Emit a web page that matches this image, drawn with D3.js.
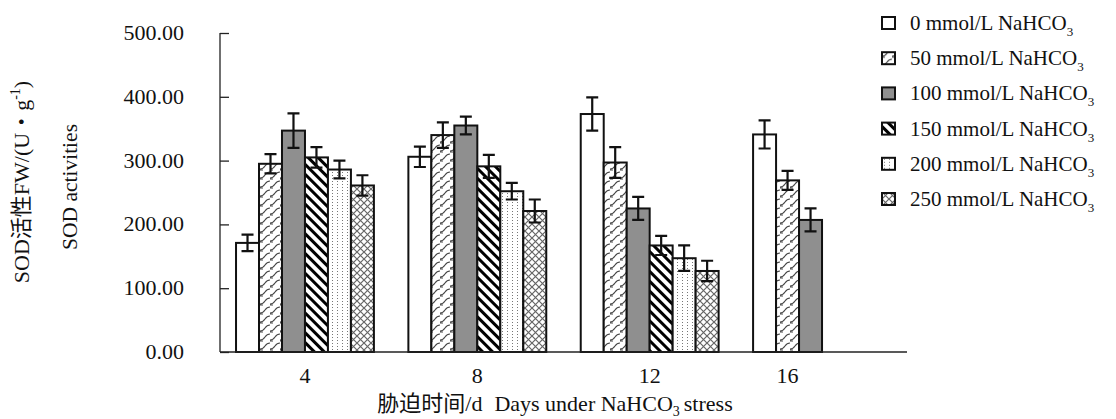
<html>
<head>
<script src="https://d3js.org/d3.v7.min.js"></script>
<style>
  body { margin: 0; background: #fff; }
  text { font-family: "Liberation Serif", "Times New Roman", "Noto Sans CJK SC", serif; fill: #111; }
</style>
</head>
<body>
<svg width="1116" height="419"></svg>
<script>
// data
var days = ["4", "8", "12", "16"];
var series = ["0", "50", "100", "150", "200", "250"];
var sod = [
  [171, 306, 373, 341],
  [295, 340, 297, 269],
  [347, 355, 225, 207],
  [305, 291, 167, null],
  [286, 252, 147, null],
  [261, 221, 127, null]
];
var err = [
  [13, 16, 26, 22],
  [15, 20, 24, 15],
  [27, 14, 18, 18],
  [16, 18, 15, null],
  [14, 13, 20, null],
  [16, 18, 16, null]
];
var yTicks = [0, 100, 200, 300, 400, 500];

var svg = d3.select("svg");
var defs = svg.append("defs");

// fill patterns, one per series
var p;
p = defs.append("pattern").attr("id", "p1").attr("patternUnits", "userSpaceOnUse").attr("width", 10).attr("height", 9);
p.append("rect").attr("width", 10).attr("height", 9).attr("fill", "#fff");
p.append("path").attr("d", "M0,7 Q3,7 5,4 T10,1 M0,8 L3,8").attr("stroke", "#444").attr("stroke-width", 1.1).attr("fill", "none");

p = defs.append("pattern").attr("id", "p3").attr("patternUnits", "userSpaceOnUse").attr("width", 7).attr("height", 7)
  .attr("patternTransform", "rotate(-45)");
p.append("rect").attr("width", 7).attr("height", 7).attr("fill", "#fff");
p.append("rect").attr("width", 3).attr("height", 7).attr("fill", "#000");

p = defs.append("pattern").attr("id", "p4").attr("patternUnits", "userSpaceOnUse").attr("width", 5).attr("height", 3);
p.append("rect").attr("width", 5).attr("height", 3).attr("fill", "#fff");
p.append("rect").attr("x", 2).attr("y", 1).attr("width", 1).attr("height", 1).attr("fill", "#777");

p = defs.append("pattern").attr("id", "p5").attr("patternUnits", "userSpaceOnUse").attr("width", 7).attr("height", 7);
p.append("rect").attr("width", 7).attr("height", 7).attr("fill", "#fff");
p.append("path").attr("d", "M0,0 L7,7 M7,0 L0,7").attr("stroke", "#666").attr("stroke-width", 1.2);

var fills = ["#fff", "url(#p1)", "#8f8f8f", "url(#p3)", "url(#p4)", "url(#p5)"];

var x = d3.scaleBand().domain(days).range([220, 907]).paddingInner(0.2).paddingOuter(0.093);
var xs = d3.scaleBand().domain(series).range([0, x.bandwidth()]);
var y = d3.scaleLinear().domain([0, 500]).range([352, 33]);

// y axis, ticks pointing inward
var yAxis = svg.append("g").attr("transform", "translate(220,0)")
  .call(d3.axisRight(y).tickValues(yTicks).tickSize(9).tickFormat(""));
yAxis.select(".domain").attr("d", "M0," + y(500) + "V" + y(0)).attr("stroke", "#222").attr("stroke-width", 1.3);
yAxis.selectAll(".tick line").attr("stroke", "#222").attr("stroke-width", 1.3);

svg.append("g").selectAll("text").data(yTicks).join("text")
  .attr("x", 184).attr("y", d => y(d) + 7)
  .attr("text-anchor", "end").attr("font-size", 22)
  .text(d => d.toFixed(2));

// bars
var groups = svg.append("g").selectAll("g").data(series).join("g");
groups.each(function(s, i) {
  var cells = days.map((d, j) => ({ day: d, v: sod[i][j], e: err[i][j] })).filter(c => c.v != null);
  var g = d3.select(this);
  g.selectAll("rect").data(cells).join("rect")
    .attr("x", c => x(c.day) + xs(s))
    .attr("y", c => y(c.v))
    .attr("width", xs.bandwidth())
    .attr("height", c => y(0) - y(c.v))
    .attr("fill", fills[i])
    .attr("stroke", "#111").attr("stroke-width", 2);
  var eb = g.selectAll("g.eb").data(cells).join("g").attr("class", "eb")
    .attr("transform", c => "translate(" + (x(c.day) + xs(s) + xs.bandwidth() / 2) + ",0)");
  eb.append("path")
    .attr("d", c => "M-6," + y(c.v + c.e) + "H6M0," + y(c.v + c.e) + "V" + y(c.v - c.e) + "M-6," + y(c.v - c.e) + "H6")
    .attr("stroke", "#111").attr("stroke-width", 2.2).attr("fill", "none");
});

// x axis line
svg.append("line").attr("x1", 220).attr("x2", 907).attr("y1", y(0)).attr("y2", y(0))
  .attr("stroke", "#222").attr("stroke-width", 1.3);

// day labels centered under the bars that exist
svg.append("g").selectAll("text").data(days).join("text")
  .attr("x", (d, j) => {
    var n = sod.filter(r => r[j] != null).length;
    return x(d) + n * xs.bandwidth() / 2;
  })
  .attr("y", 383).attr("text-anchor", "middle").attr("font-size", 22)
  .text(d => d);

// axis titles
var xt = svg.append("text").attr("x", 555).attr("y", 411).attr("text-anchor", "middle").attr("font-size", 22);
xt.append("tspan").text("胁迫时间/d");
xt.append("tspan").attr("dx", 12).text("Days under NaHCO");
xt.append("tspan").attr("font-size", 14).attr("dy", 5).text("3");
xt.append("tspan").attr("dy", -5).attr("dx", 4).text("stress");

var yt1 = svg.append("text").attr("transform", "translate(29,182) rotate(-90)").attr("text-anchor", "middle").attr("font-size", 22);
yt1.append("tspan").text("SOD活性FW/(U・g");
yt1.append("tspan").attr("font-size", 14).attr("dy", -9).text("-1");
yt1.append("tspan").attr("dy", 9).text(")");

svg.append("text").attr("transform", "translate(77,187) rotate(-90)").attr("text-anchor", "middle").attr("font-size", 21.5)
  .text("SOD activities");

// legend
var leg = svg.append("g").selectAll("g").data(series).join("g")
  .attr("transform", (d, i) => "translate(882," + (23 + i * 35.2) + ")");
leg.append("rect").attr("x", 0).attr("y", -6).attr("width", 13).attr("height", 12)
  .attr("fill", (d, i) => fills[i]).attr("stroke", "#111").attr("stroke-width", 2);
var lt = leg.append("text").attr("x", 28).attr("y", 7).attr("font-size", 21);
lt.append("tspan").text(d => d + " mmol/L NaHCO");
lt.append("tspan").attr("font-size", 13).attr("dy", 6).text("3");
</script>
</body>
</html>
